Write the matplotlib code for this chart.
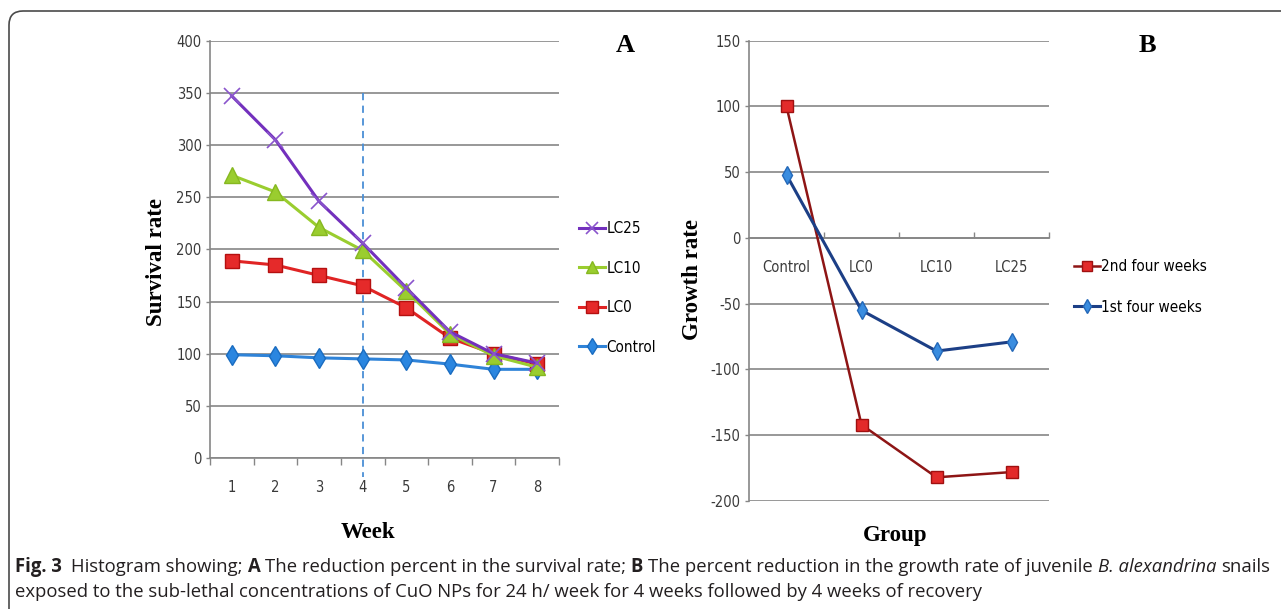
# -*- coding: utf-8 -*-

import numpy as np
import matplotlib.pyplot as plt
from matplotlib.patches import FancyBboxPatch
from matplotlib.transforms import IdentityTransform


# panel A - survival rate per week
weeks = [1, 2, 3, 4, 5, 6, 7, 8]
control = [99, 98, 96, 95, 94, 90, 85, 85]
lc0 = [189, 185, 175, 165, 144, 115, 100, 90]
lc10 = [271, 255, 221, 199, 160, 119, 98, 87]
lc25 = [347, 305, 246, 206, 163, 121, 100, 91]

# panel B - growth rate per group
groups = ['Control', 'LC0', 'LC10', 'LC25']
first_four = [48, -55, -86, -79]
second_four = [100, -142, -182, -178]

W, H = 1281, 609
narrow = ['DejaVu Sans']
serif = ['Liberation Serif', 'DejaVu Serif']
plt.rcParams['font.family'] = narrow
plt.rcParams['font.stretch'] = 'condensed'
plt.rcParams['axes.unicode_minus'] = False

grid_c = '#868686'
tick_c = '#3a3a3a'

fig = plt.figure(figsize=(W / 100, H / 100), dpi=100)


def box(l, t, r, b):
    return [l / W, 1 - b / H, (r - l) / W, (b - t) / H]


def style(ax):
    for s in ['top', 'right']:
        ax.spines[s].set_visible(False)
    for s in ['left', 'bottom']:
        ax.spines[s].set_color(grid_c)
        ax.spines[s].set_linewidth(1.2)
    ax.yaxis.grid(True, color=grid_c, lw=1.2)
    ax.set_axisbelow(True)
    ax.tick_params(axis='y', colors=grid_c, labelcolor=tick_c, labelsize=10.5,
                   length=3, width=1, pad=3)
    ax.tick_params(axis='x', which='major', length=0, labelsize=10.5,
                   labelcolor=tick_c, pad=16)
    ax.tick_params(axis='x', which='minor', colors=grid_c, width=1)


# ---------------- A ----------------
axA = fig.add_axes(box(210, 40.7, 559, 458))
style(axA)
axA.set_xlim(0.5, 8.5)
axA.set_ylim(0, 400)
axA.set_yticks(np.arange(0, 401, 50))
axA.set_xticks(weeks)
axA.set_xticks(np.arange(0.5, 9, 1), minor=True)
axA.tick_params(axis='x', which='minor', length=5, direction='out')

axA.plot([4, 4], [350, -18], color='#4a8fd6', lw=1.3, ls=(0, (4, 3)),
         clip_on=False, zorder=1)
hc, = axA.plot(weeks, control, color='#2f83d8', lw=2.2, marker='d', ms=10,
               mfc='#2a86e0', mec='#1a6cc0', label='Control', zorder=3)
h0, = axA.plot(weeks, lc0, color='#e02424', lw=2.2, marker='s', ms=10,
               mfc='#e52a2a', mec='#b51010', label='LC0', zorder=4)
h10, = axA.plot(weeks, lc10, color='#9acd2f', lw=2.2, marker='^', ms=11,
                mfc='#9acd2f', mec='#86b820', label='LC10', zorder=5)
h25, = axA.plot(weeks, lc25, color='#7330bd', lw=2.2, marker='x', ms=11,
                mew=1.2, mec='#8a55cc', label='LC25', zorder=6)

axA.legend(handles=[h25, h10, h0, hc], loc='center left', frameon=False,
           bbox_to_anchor=(571 / W, 1 - 288 / H), bbox_transform=fig.transFigure,
           fontsize=11, borderpad=0, handlelength=1.7, handletextpad=0.12,
           labelspacing=1.6, markerscale=0.8)

axA.set_ylabel('Survival rate', family=serif, fontweight='bold', fontsize=16.5)
axA.yaxis.set_label_coords(167 / W, 1 - 262 / H, transform=fig.transFigure)
fig.text(368 / W, 1 - 532 / H, 'Week', family=serif, fontweight='bold',
         fontsize=16.5, ha='center', va='center')
fig.text(625 / W, 1 - 45 / H, 'A', family=serif, fontweight='bold',
         fontsize=19, ha='center', va='center')

# ---------------- B ----------------
axB = fig.add_axes(box(749, 40.7, 1049, 501))
style(axB)
axB.set_xlim(0.5, 4.5)
axB.set_ylim(-200, 150)
axB.set_yticks(np.arange(-200, 151, 50))
axB.spines['bottom'].set_position(('data', 0))
axB.set_xticks(np.arange(1, len(groups) + 1))
axB.set_xticklabels(groups)
axB.set_xticks(np.arange(1.5, len(groups) + 1, 1), minor=True)
axB.tick_params(axis='x', which='minor', length=4, direction='in')

x_b = np.arange(1, len(groups) + 1)
h2, = axB.plot(x_b, second_four, color='#8e1515', lw=1.8, marker='s', ms=9,
               mfc='#e32a2a', mec='#a01010', label='2nd four weeks', zorder=3)
h1, = axB.plot(x_b, first_four, color='#1c3f86', lw=2.2, marker='d', ms=9,
               mfc='#3a8de0', mec='#2468b8', label='1st four weeks', zorder=4)

axB.legend(handles=[h2, h1], loc='center left', frameon=False,
           bbox_to_anchor=(1066 / W, 1 - 287 / H), bbox_transform=fig.transFigure,
           fontsize=11, borderpad=0, handlelength=1.7, handletextpad=0.12,
           labelspacing=1.65, markerscale=0.8)

axB.set_ylabel('Growth rate', family=serif, fontweight='bold', fontsize=16.5)
axB.yaxis.set_label_coords(703 / W, 1 - 280 / H, transform=fig.transFigure)
fig.text(895 / W, 1 - 535 / H, 'Group', family=serif, fontweight='bold',
         fontsize=16.5, ha='center', va='center')
fig.text(1147 / W, 1 - 45 / H, 'B', family=serif, fontweight='bold',
         fontsize=19, ha='center', va='center')

# ---------------- frame ----------------
frame = FancyBboxPatch((9, -30), 1320, H - 11 + 30,
                       boxstyle='round,pad=0,rounding_size=14',
                       transform=IdentityTransform(), fill=False,
                       ec='#4a4a4a', lw=1.2)
fig.patches.append(frame)

# ---------------- caption ----------------
cap_font = ['Open Sans', 'DejaVu Sans']
cap_c = '#231f20'
renderer = fig.canvas.get_renderer()

line1 = [('Fig. 3', 'bold', 'normal', 2),
         ('Histogram showing;', 'normal', 'normal', 1),
         ('A', 'bold', 'normal', 1),
         ('The reduction percent in the survival rate;', 'normal', 'normal', 1),
         ('B', 'bold', 'normal', 1),
         ('The percent reduction in the growth rate of juvenile', 'normal', 'normal', 1),
         ('B. alexandrina', 'normal', 'italic', 1),
         ('snails', 'normal', 'normal', 0)]
line2 = [('exposed to the sub-lethal concentrations of CuO NPs for 24 h/ week '
          'for 4 weeks followed by 4 weeks of recovery', 'normal', 'normal', 0)]


def measure(s, size, weight='normal', st='normal'):
    t = fig.text(0, 0, s, fontsize=size, fontweight=weight, fontstyle=st,
                 family=cap_font, fontstretch='normal')
    w = t.get_window_extent(renderer).width
    t.remove()
    return w


def line_width(parts, size):
    sp = measure('a a', size) - measure('aa', size)
    return sum(measure(s, size, w, st) + g * sp for s, w, st, g in parts)


def draw_line(parts, x, y, size):
    sp = measure('a a', size) - measure('aa', size)
    for s, w, st, g in parts:
        t = fig.text(x / W, 1 - y / H, s, fontsize=size, fontweight=w,
                     fontstyle=st, family=cap_font, fontstretch='normal',
                     color=cap_c, va='baseline')
        x = t.get_window_extent(renderer).x1 + g * sp


cap_size = 12 * 1250 / line_width(line1, 12)
draw_line(line1, 15, 572, cap_size)
draw_line(line2, 15, 597, cap_size)

plt.savefig('out.png', dpi=100)
